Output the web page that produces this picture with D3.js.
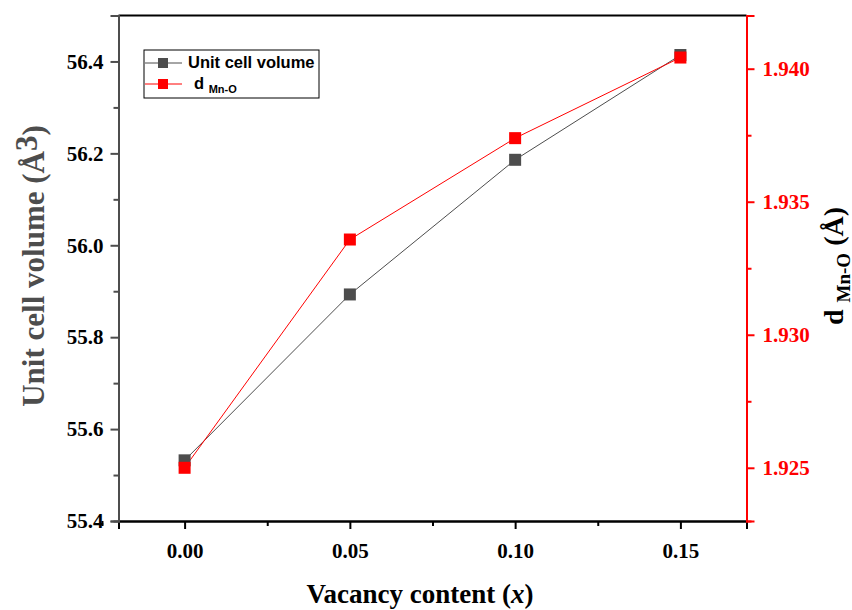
<!DOCTYPE html>
<html lang="en">
	<head>
		<meta charset="UTF-8"/>
		<title>Vacancy content</title>
		<script type="text/javascript" src="https://cdn.jsdelivr.net/npm/d3@7"></script>
		<style>
			body { margin: 0; background: #fff; }
		</style>
	</head>
	<body>
		<script type="text/javascript">
			var w = 852;
			var h = 610;

			var vacancy = [0.00, 0.05, 0.10, 0.15];
			var cellVolume = [55.532, 55.893, 56.186, 56.414];
			var dMnO = [1.9250, 1.93358, 1.93739, 1.94042];

			var xTicks = [0.00, 0.05, 0.10, 0.15];
			var leftTicks = [55.4, 55.6, 55.8, 56.0, 56.2, 56.4];
			var rightTicks = [1.925, 1.930, 1.935, 1.940];

			var grey = "#4d4d4d";
			var serif = "'Liberation Serif', 'Times New Roman', serif";
			var sans = "'Liberation Sans', Arial, sans-serif";

			var x0 = 118.5, x1 = 746.5, y0 = 15.5, y1 = 521;

			var xScale = d3.scaleLinear().domain([-0.02, 0.17]).range([x0, x1]);
			var yLeft = d3.scaleLinear().domain([55.4, 56.5]).range([y1, y0]);
			var yRight = d3.scaleLinear().domain([1.923, 1.942]).range([y1, y0]);

			var svg = d3.select("body")
				.append("svg")
				.attr("width", w)
				.attr("height", h);

			// Top border
			svg.append("line")
				.attr("x1", x0).attr("x2", x1)
				.attr("y1", y0).attr("y2", y0)
				.attr("stroke", "#000")
				.attr("stroke-width", 2);

			// Minor ticks (no labels)
			function minor(axis, scale, vals, len) {
				return axis(scale).tickValues(vals).tickSize(len).tickFormat("");
			}

			// Bottom axis
			var gx = svg.append("g").attr("transform", "translate(0," + y1 + ")");
			gx.append("g").call(minor(d3.axisBottom, xScale, [-0.025, 0.025, 0.075, 0.125], 5));
			gx.append("g").call(d3.axisBottom(xScale).tickValues(xTicks).tickSize(8).tickPadding(14)
				.tickFormat(d3.format(".2f")));
			gx.selectAll("path.domain").attr("stroke", "#000").attr("stroke-width", 2);
			gx.selectAll(".tick line").attr("stroke", "#000").attr("stroke-width", 2);
			gx.selectAll("text").attr("font-family", serif).attr("font-weight", "bold")
				.attr("font-size", "21px").attr("fill", "#000");

			// Left axis
			var gl = svg.append("g").attr("transform", "translate(" + x0 + ",0)");
			gl.append("g").call(minor(d3.axisLeft, yLeft, [55.5, 55.7, 55.9, 56.1, 56.3], 5));
			gl.append("g").call(d3.axisLeft(yLeft).tickValues(leftTicks).tickSize(8).tickPadding(7)
				.tickFormat(d3.format(".1f")));
			gl.selectAll("path.domain").attr("stroke", grey).attr("stroke-width", 2);
			gl.selectAll(".tick line").attr("stroke", grey).attr("stroke-width", 2);
			gl.selectAll("text").attr("font-family", serif).attr("font-weight", "bold")
				.attr("font-size", "21px").attr("fill", "#000");

			// Right axis
			var gr = svg.append("g").attr("transform", "translate(" + x1 + ",0)");
			gr.append("g").call(minor(d3.axisRight, yRight, [1.9275, 1.9325, 1.9375], 5));
			gr.append("g").call(d3.axisRight(yRight).tickValues(rightTicks).tickSize(8).tickPadding(8)
				.tickFormat(d3.format(".3f")));
			gr.selectAll("path.domain").attr("stroke", "#f00").attr("stroke-width", 2);
			gr.selectAll(".tick line").attr("stroke", "#f00").attr("stroke-width", 2);
			gr.selectAll("text").attr("font-family", serif).attr("font-weight", "bold")
				.attr("font-size", "21px").attr("fill", "#f00");

			// Lines
			var volLine = d3.line()
				.x(function(d, i) { return xScale(vacancy[i]); })
				.y(function(d) { return yLeft(d); });
			var dLine = d3.line()
				.x(function(d, i) { return xScale(vacancy[i]); })
				.y(function(d) { return yRight(d); });

			svg.append("path").datum(cellVolume)
				.attr("d", volLine)
				.attr("fill", "none")
				.attr("stroke", grey)
				.attr("stroke-width", 1);

			svg.append("path").datum(dMnO)
				.attr("d", dLine)
				.attr("fill", "none")
				.attr("stroke", "#f00")
				.attr("stroke-width", 1);

			var ms = 12;
			svg.selectAll("rect.vol")
				.data(cellVolume)
				.enter()
				.append("rect")
				.attr("class", "vol")
				.attr("x", function(d, i) { return xScale(vacancy[i]) - ms / 2; })
				.attr("y", function(d) { return yLeft(d) - ms / 2; })
				.attr("width", ms)
				.attr("height", ms)
				.attr("fill", grey);

			svg.selectAll("rect.dmno")
				.data(dMnO)
				.enter()
				.append("rect")
				.attr("class", "dmno")
				.attr("x", function(d, i) { return xScale(vacancy[i]) - ms / 2; })
				.attr("y", function(d) { return yRight(d) - ms / 2; })
				.attr("width", ms)
				.attr("height", ms)
				.attr("fill", "#f00");

			// Legend
			var lg = svg.append("g").attr("transform", "translate(144,50)");
			lg.append("rect")
				.attr("x", 0).attr("y", 0)
				.attr("width", 175).attr("height", 48)
				.attr("fill", "#fff")
				.attr("stroke", "#000")
				.attr("stroke-width", 1);
			[[grey, 13], [ "#f00", 34]].forEach(function(s) {
				lg.append("line")
					.attr("x1", 1).attr("x2", 38)
					.attr("y1", s[1]).attr("y2", s[1])
					.attr("stroke", s[0]).attr("stroke-width", 1);
				lg.append("rect")
					.attr("x", 14).attr("y", s[1] - 5)
					.attr("width", 10).attr("height", 10)
					.attr("fill", s[0]);
			});
			lg.append("text")
				.attr("x", 44).attr("y", 18)
				.attr("font-family", sans).attr("font-weight", "bold")
				.attr("font-size", "16.5px")
				.text("Unit cell volume");
			var dl = lg.append("text")
				.attr("x", 50).attr("y", 39)
				.attr("font-family", sans).attr("font-weight", "bold")
				.attr("font-size", "16.5px");
			dl.append("tspan").text("d ");
			dl.append("tspan").attr("font-size", "11px").attr("dy", 4).text("Mn-O");

			// Axis titles
			var xt = svg.append("text")
				.attr("x", 420).attr("y", 603)
				.attr("text-anchor", "middle")
				.attr("font-family", serif).attr("font-weight", "bold")
				.attr("font-size", "27px");
			xt.append("tspan").text("Vacancy content (");
			xt.append("tspan").attr("font-style", "italic").text("x");
			xt.append("tspan").text(")");

			var lt = svg.append("text")
				.attr("transform", "translate(44,266) rotate(-90)")
				.attr("text-anchor", "middle")
				.attr("font-family", serif).attr("font-weight", "bold")
				.attr("font-size", "31px")
				.attr("fill", grey);
			lt.append("tspan").text("Unit cell volume (Å");
			lt.append("tspan").attr("dy", -7).text("3");
			lt.append("tspan").attr("dy", 7).text(")");

			var rt = svg.append("text")
				.attr("transform", "translate(843,266) rotate(-90)")
				.attr("text-anchor", "middle")
				.attr("font-family", serif).attr("font-weight", "bold")
				.attr("font-size", "28px")
				.attr("fill", "#000");
			rt.append("tspan").text("d ");
			rt.append("tspan").attr("font-size", "19px").attr("dy", 7).text("Mn-O");
			rt.append("tspan").attr("dy", -7).text(" (Å)");
		</script>
	</body>
</html>
